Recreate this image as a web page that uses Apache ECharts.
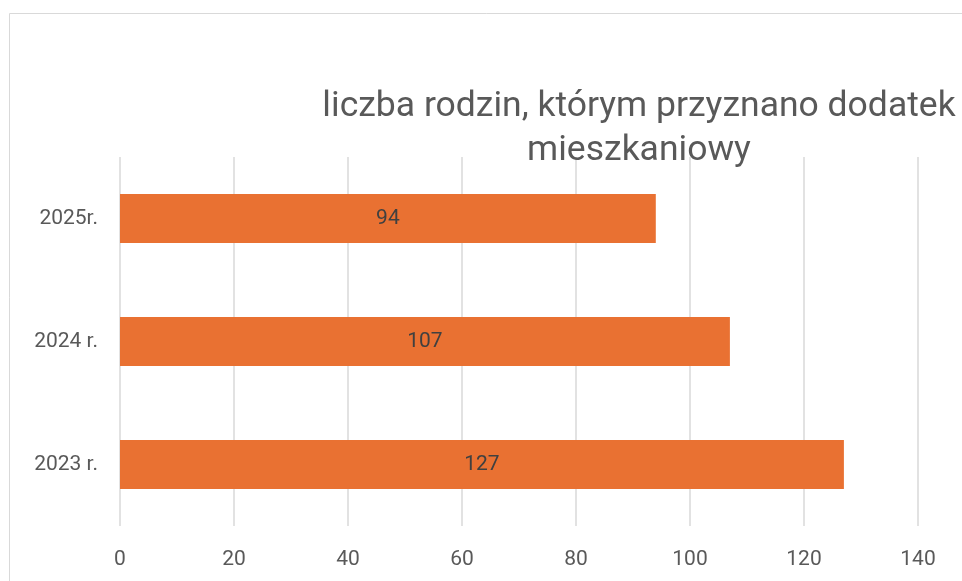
<!DOCTYPE html>
<html>
<head>
<meta charset="utf-8">
<script src="https://cdn.jsdelivr.net/npm/echarts@6/dist/echarts.min.js"></script>
<style>
  html, body { margin: 0; padding: 0; background: #fff; }
  #chart { width: 962px; height: 581px; }
</style>
</head>
<body>
<div id="chart"></div>
<script>
// dane wykresu
const categories = ['2023 r.', '2024 r.', '2025r.'];
const values = [127, 107, 94];
const titleText = 'liczba rodzin, którym przyznano dodatek\nmieszkaniowy';

const chart = echarts.init(document.getElementById('chart'));
const option = {
  animation: false,
  textStyle: { fontFamily: 'Roboto' },
  graphic: [
    {
      type: 'rect',
      shape: { x: 9.5, y: 13.5, width: 1000, height: 1000 },
      style: { fill: 'none', stroke: '#d9d9d9', lineWidth: 1 },
      silent: true
    }
  ],
  title: {
    text: titleText,
    left: 634,
    top: 80,
    textAlign: 'center',
    textStyle: {
      fontFamily: 'Roboto',
      fontSize: 35.5,
      fontWeight: 'normal',
      color: '#595959',
      lineHeight: 44
    }
  },
  grid: {
    left: 120,
    right: 44,
    top: 157,
    bottom: 55,
    containLabel: false
  },
  xAxis: {
    type: 'value',
    min: 0,
    max: 140,
    interval: 20,
    axisLine: { show: false },
    axisTick: { show: false },
    axisLabel: { color: '#595959', fontSize: 21, margin: 23 },
    splitLine: { lineStyle: { color: '#d9d9d9', width: 1.5 } }
  },
  yAxis: {
    type: 'category',
    data: categories,
    axisLine: { show: false },
    axisTick: { show: false },
    axisLabel: { color: '#595959', fontSize: 21, margin: 22 }
  },
  series: [
    {
      type: 'bar',
      data: values,
      barCategoryGap: '60%',
      itemStyle: { color: '#E97132' },
      label: {
        show: true,
        position: 'inside',
        color: '#404040',
        fontSize: 21
      }
    }
  ]
};
chart.setOption(option);
</script>
</body>
</html>
